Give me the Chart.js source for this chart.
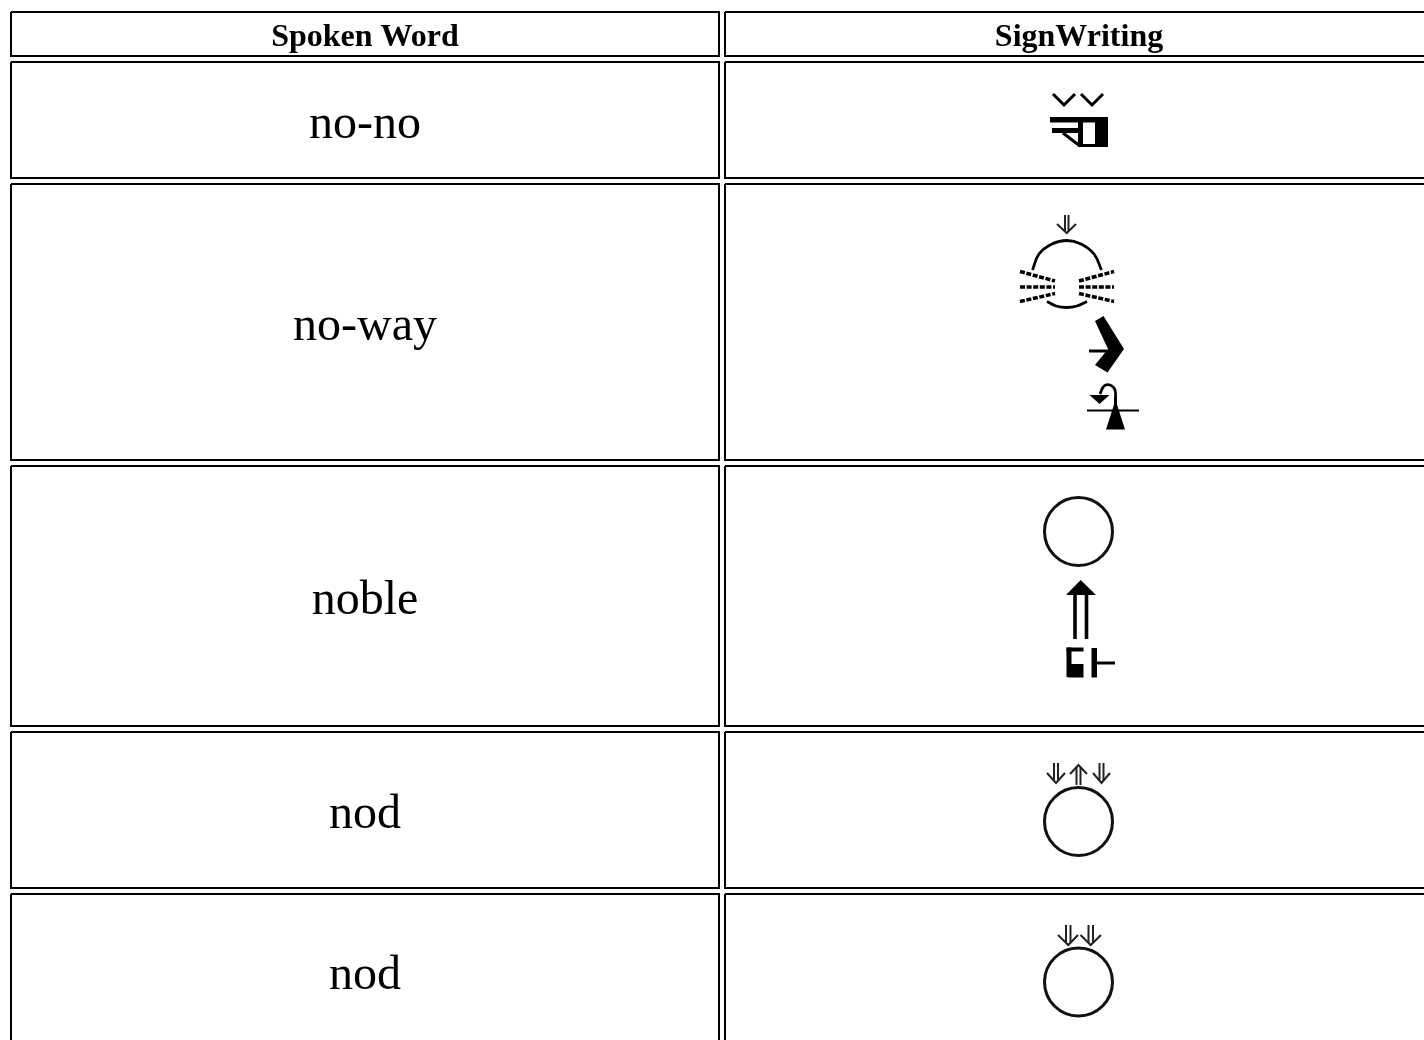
<!DOCTYPE html>
<html>
<head>
<meta charset="utf-8">
<title>Spoken Word / SignWriting</title>
<script src="https://cdn.jsdelivr.net/npm/chart.js@4/dist/chart.umd.min.js"></script>
<style>
  html, body { margin: 0; background: #fff; overflow: hidden; }
  canvas { display: block; }
</style>
</head>
<body>
<canvas id="chart" width="1424" height="1040"></canvas>
<script>
// --- Table content ---
const columnHeaders = ['Spoken Word', 'SignWriting']
const spokenWords = ['no-no', 'no-way', 'noble', 'nod', 'nod']

// Cell edges (axis units are picture pixels)
const columnLeft = [11, 725]
const columnRight = [719, 1432]
const rowTop = [12, 62, 184, 466, 732, 894]
const rowBottom = [56, 178, 460, 726, 888, 1048]
const columnCentre = [365, 1079]
const headerMiddle = 38
const wordMiddle = [125, 327, 601, 815, 976]

// --- SignWriting glyphs ---
const headCircles = [[1078.5, 531.5], [1078.5, 821.5], [1078.5, 982]]

const heavyStrokes = [
  [[1053, 94], [1064, 105], [1075, 94]],
  [[1081, 94], [1092, 105], [1103, 94]],
  [[1063, 133], [1080, 146]],
  [[1089, 351], [1107, 351]],
  [[1097, 663], [1115, 663]],
  [[1115.5, 398], [1115.5, 412]]
]

const doubleShaftStrokes = [
  [[1075, 595], [1075, 639]],
  [[1086.5, 595], [1086.5, 639]]
]

const fineStrokes = [
  [[1087, 410.5], [1139, 410.5]]
]

const arrowStrokes = [
  [[1065, 215], [1065, 231]], [[1068.5, 215], [1068.5, 231]],
  [[1057, 224], [1066.7, 233], [1076, 224]],
  [[1054, 763], [1054, 781]], [[1058, 763], [1058, 781]],
  [[1047, 773], [1056, 783], [1065, 773]],
  [[1076.5, 767], [1076.5, 785]], [[1080.5, 767], [1080.5, 785]],
  [[1070, 774], [1078.5, 765], [1087, 774]],
  [[1099.5, 763], [1099.5, 781]], [[1103.5, 763], [1103.5, 781]],
  [[1093, 773], [1101.5, 783], [1110, 773]],
  [[1066, 925], [1066, 943]], [[1070.5, 925], [1070.5, 943]],
  [[1058, 935], [1068.3, 945], [1078, 935]],
  [[1088.5, 925], [1088.5, 943]], [[1093, 925], [1093, 943]],
  [[1080.5, 935], [1090.7, 945], [1101, 935]]
]

const dashedStrokes = [
  [[1020, 271.5], [1055, 281]],
  [[1020, 287], [1055, 287]],
  [[1020, 301.5], [1055, 293.5]],
  [[1079, 281], [1114, 271.5]],
  [[1079, 287], [1114, 287]],
  [[1079, 293.5], [1114, 301.5]]
]

const curvedStrokes = [
  [[1032.5, 270], [1039, 254], [1052, 244], [1066.7, 240.5], [1081, 244], [1094, 254], [1101.5, 270]],
  [[1047, 301.5], [1056, 306], [1066.7, 307.5], [1077, 306], [1087, 301.5]],
  [[1115.5, 400], [1115, 390], [1110, 385], [1104, 386], [1100, 394]]
]

const filledShapes = [
  [[1050, 117], [1108, 117], [1108, 122.5], [1050, 122.5]],
  [[1095, 117], [1108, 117], [1108, 147], [1095, 147]],
  [[1078, 144], [1108, 144], [1108, 147], [1078, 147]],
  [[1078, 122], [1083, 122], [1083, 147], [1078, 147]],
  [[1052, 128], [1078, 128], [1078, 133], [1052, 133]],
  [[1095, 321], [1103.5, 316], [1124, 349], [1107.5, 372.5], [1095, 365], [1108, 349]],
  [[1115.5, 400], [1125, 429.5], [1106, 429.5]],
  [[1089.5, 395], [1109.5, 395], [1099.5, 404]],
  [[1080.7, 580], [1096, 595], [1066, 595]],
  [[1066.5, 647.5], [1083.5, 647.5], [1083.5, 651.5], [1066.5, 651.5]],
  [[1066.5, 647.5], [1071.5, 647.5], [1071.5, 677], [1066.5, 677]],
  [[1068, 664], [1083.5, 664], [1083.5, 677.5], [1068, 677.5]],
  [[1091.5, 648], [1097, 648], [1097, 677.5], [1091.5, 677.5]]
]

const toPoints = pairs => pairs.map(([x, y]) => ({ x, y }))

function lineSets(strokes, style) {
  return strokes.map(stroke => ({
    data: toPoints(stroke),
    showLine: true,
    pointRadius: 0,
    borderColor: '#000',
    ...style
  }))
}

// one closed outline per table cell, header row and body rows alike
const cellOutlines = []
rowTop.forEach((top, r) => {
  columnLeft.forEach((left, c) => {
    const right = columnRight[c]
    const bottom = rowBottom[r]
    cellOutlines.push([[left, top], [right, top], [right, bottom], [left, bottom], [left, top]])
  })
})

const datasets = [
  ...lineSets(cellOutlines, { borderWidth: 2 }),
  ...lineSets(heavyStrokes, { borderWidth: 3 }),
  ...lineSets(doubleShaftStrokes, { borderWidth: 3.6 }),
  ...lineSets(fineStrokes, { borderWidth: 2 }),
  ...lineSets(arrowStrokes, { borderWidth: 2, borderColor: '#222' }),
  ...lineSets(dashedStrokes, { borderWidth: 3.5, borderDash: [5, 1.6] }),
  ...lineSets(curvedStrokes, { borderWidth: 2.8, tension: 0.4 }),
  ...lineSets(filledShapes, { borderWidth: 0, fill: 'shape', backgroundColor: '#000' }),
  {
    data: toPoints(headCircles),
    pointStyle: 'circle',
    pointRadius: 34,
    pointBorderWidth: 3,
    pointBorderColor: '#111',
    pointBackgroundColor: 'rgba(0,0,0,0)'
  }
]

// table text, placed through the chart's own scales
const tableText = {
  id: 'tableText',
  afterDatasetsDraw(chart) {
    const { ctx, scales: { x, y } } = chart
    ctx.save()
    ctx.fillStyle = '#000'
    ctx.textAlign = 'center'
    ctx.textBaseline = 'middle'
    ctx.font = 'bold 32px "Liberation Serif"'
    columnHeaders.forEach((label, c) => {
      ctx.fillText(label, x.getPixelForValue(columnCentre[c]), y.getPixelForValue(headerMiddle))
    })
    ctx.font = '48px "Liberation Serif"'
    spokenWords.forEach((word, r) => {
      ctx.fillText(word, x.getPixelForValue(columnCentre[0]), y.getPixelForValue(wordMiddle[r]))
    })
    ctx.restore()
  }
}

// the axes must fill the canvas: no auto padding for point radius / line width
Chart.ScatterController.prototype.getMaxOverflow = () => 0

new Chart(document.getElementById('chart').getContext('2d'), {
  type: 'scatter',
  data: { datasets },
  plugins: [tableText],
  options: {
    responsive: false,
    animation: false,
    events: [],
    layout: { padding: 0 },
    scales: {
      x: { type: 'linear', min: 0, max: 1424, display: false },
      y: { type: 'linear', min: 0, max: 1040, reverse: true, display: false }
    },
    plugins: { legend: { display: false }, tooltip: { enabled: false } }
  }
})
</script>
</body>
</html>
